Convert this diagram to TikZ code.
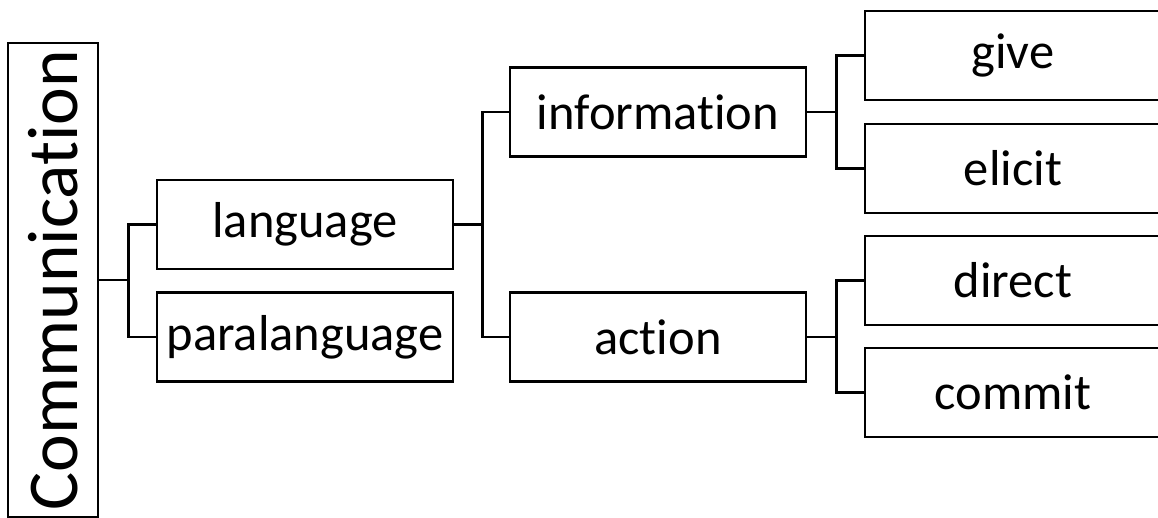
\documentclass[tikz,border=0pt]{standalone}
\usepackage{fontspec}
\setmainfont{Carlito}[Ligatures=NoCommon]

\begin{document}
\begin{tikzpicture}[x=1pt,y=1pt,line width=2.7pt]
\tikzstyle{every node}+=[inner sep=0pt]
\tikzstyle{box}=[draw=black,minimum width=296pt,minimum height=89pt,font=\fontsize{50.5}{56}\selectfont]
\useasboundingbox (0,0) rectangle (1158,-518);
\node [draw=black,rotate=90,minimum width=474pt,minimum height=90pt,font=\fontsize{71.5}{80}\selectfont] (comm) at (53,-280) {Communication};
\node [box] (lang) at (305,-224.5) {language};
\node [box] (para) at (305,-337) {paralanguage};
\node [box] (info) at (658,-112) {information};
\node [box] (act) at (658,-337) {action};
\node [box] (give) at (1013,-55.5) {give};
\node [box] (elicit) at (1013,-168.5) {elicit};
\node [box] (direct) at (1013,-280.5) {direct};
\node [box] (commit) at (1013,-392.5) {commit};
\draw [black] (comm.south) -- ++(29,0) coordinate (c1);
\draw [black] (c1) |- (lang.west);
\draw [black] (c1) |- (para.west);
\draw [black] (lang.east) -- ++(28,0) coordinate (c2);
\draw [black] (c2) |- (info.west);
\draw [black] (c2) |- (act.west);
\draw [black] (info.east) -- ++(29,0) coordinate (c3);
\draw [black] (c3) |- (give.west);
\draw [black] (c3) |- (elicit.west);
\draw [black] (act.east) -- ++(29,0) coordinate (c4);
\draw [black] (c4) |- (direct.west);
\draw [black] (c4) |- (commit.west);
\end{tikzpicture}
\end{document}
